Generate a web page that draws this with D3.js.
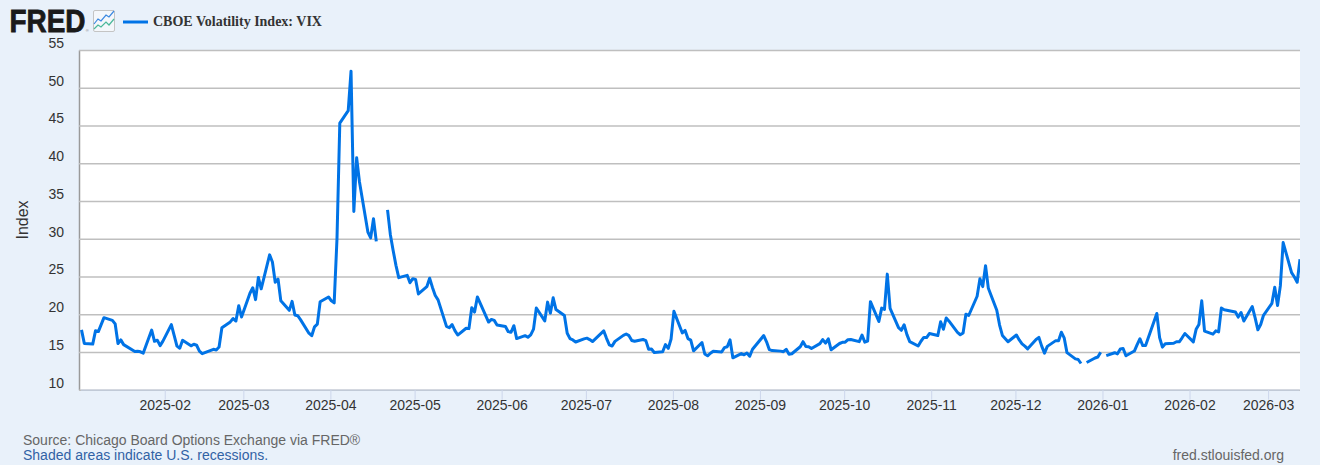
<!DOCTYPE html>
<html>
<head>
<meta charset="utf-8">
<script src="https://cdn.jsdelivr.net/npm/d3@7/dist/d3.min.js"></script>
<style>
html,body{margin:0;padding:0;background:#e9f1fa;}
svg{display:block;}
text{font-family:"Liberation Sans",Arial,sans-serif;}
</style>
</head>
<body>
<svg id="c" width="1320" height="465"></svg>
<script>
// [day of month, close]; null marks a missing observation (line break)
const m2501=[[2,17.93],[3,16.13],[6,16.04],[7,17.82],[8,17.70],[10,19.54],[13,19.19],[14,18.71],[15,16.12],[16,16.60],[17,15.97],[21,15.06],[22,15.10],[23,15.02],[24,14.85],[27,17.90],[28,16.41],[29,16.56],[30,15.84],[31,16.43]];
const m2502=[[3,18.62],[4,17.21],[5,15.77],[6,15.50],[7,16.54],[10,15.81],[11,16.02],[12,15.89],[13,15.10],[14,14.77],[18,15.35],[19,15.27],[20,15.66],[21,18.21],[24,18.98],[25,19.43],[26,19.10],[27,21.13],[28,19.63]];
const m2503=[[3,22.78],[4,23.51],[5,21.93],[6,24.87],[7,23.37],[10,27.86],[11,26.92],[12,24.23],[13,24.66],[14,21.77],[17,20.51],[18,21.70],[19,19.90],[20,19.80],[21,19.28],[24,17.48],[25,17.15],[26,18.33],[27,18.69],[28,21.65],[31,22.28]];
const m2504=[[1,21.77],[2,21.51],[3,30.02],[4,45.31],[7,46.98],[8,52.2],[9,33.62],[10,40.72],[11,37.56],[14,30.89],[15,30.12],[16,32.64],[17,29.65],[18,null],[21,33.82],[22,30.57],[23,28.45],[24,26.47],[25,24.84],[28,25.15],[29,24.17],[30,24.70]];
const m2505=[[1,24.60],[2,22.68],[5,23.64],[6,24.76],[7,23.55],[8,22.48],[9,21.90],[12,18.39],[13,18.22],[14,18.62],[15,17.83],[16,17.24],[19,18.14],[20,18.09],[21,20.87],[22,20.28],[23,22.29],[27,18.96],[28,19.31],[29,19.18],[30,18.57]];
const m2506=[[2,18.36],[3,17.69],[4,17.61],[5,18.48],[6,16.77],[9,17.16],[10,16.95],[11,17.26],[12,18.02],[13,20.82],[16,19.11],[17,21.60],[18,20.14],[19,22.17],[20,20.62],[23,19.83],[24,17.48],[25,16.76],[26,16.59],[27,16.32],[30,16.73]];
const m2507=[[1,16.83],[2,16.64],[3,16.38],[7,17.79],[8,16.81],[9,15.94],[10,15.78],[11,16.40],[14,17.20],[15,17.38],[16,17.16],[17,16.52],[18,16.41],[21,16.65],[22,16.50],[23,15.37],[24,15.39],[25,14.93],[28,15.03],[29,15.98],[30,15.48],[31,16.72]];
const m2508=[[1,20.38],[4,17.52],[5,17.85],[6,16.77],[7,16.57],[8,15.15],[11,16.25],[12,14.73],[13,14.49],[14,14.83],[15,15.09],[18,14.99],[19,15.57],[20,15.69],[21,16.60],[22,14.22],[25,14.79],[26,14.62],[27,14.85],[28,14.43],[29,15.36]];
const m2509=[[2,17.17],[3,16.35],[4,15.30],[5,15.18],[8,15.11],[9,15.04],[10,15.35],[11,14.71],[12,14.76],[15,15.69],[16,16.36],[17,15.72],[18,15.70],[19,15.45],[22,16.10],[23,16.64],[24,16.18],[25,16.74],[26,15.29],[29,16.12],[30,16.28]];
const m2510=[[1,16.29],[2,16.63],[3,16.65],[6,16.37],[7,17.24],[8,16.30],[9,16.43],[10,21.66],[13,19.03],[14,20.81],[15,20.64],[16,25.31],[17,20.78],[20,18.23],[21,17.87],[22,18.60],[23,17.30],[24,16.37],[27,15.79],[28,16.42],[29,16.92],[30,16.91],[31,17.44]];
const m2511=[[3,17.17],[4,19.00],[5,18.01],[6,19.50],[7,19.08],[10,17.60],[11,17.28],[12,17.51],[13,20.00],[14,19.83],[17,22.38],[18,24.69],[19,23.66],[20,26.42],[21,23.43],[24,20.52],[25,18.56],[26,17.19],[28,16.35]];
const m2512=[[1,17.24],[2,16.59],[3,16.08],[4,15.78],[5,15.41],[8,16.66],[9,16.93],[10,15.77],[11,14.85],[12,15.74],[15,16.50],[16,16.48],[17,17.62],[18,16.87],[19,14.91],[22,14.08],[23,14.00],[24,13.47],[25,null],[26,13.60],[29,14.20],[30,14.33],[31,14.95]];
const m2601=[[1,null],[2,14.51],[5,14.90],[6,14.75],[7,15.38],[8,15.45],[9,14.49],[12,15.12],[13,15.98],[14,16.75],[15,15.84],[16,15.86],[20,20.09],[21,16.90],[22,15.64],[23,16.09],[26,16.15],[27,16.35],[28,16.35],[29,16.88],[30,17.44]];
const m2602=[[2,16.34],[3,18.00],[4,18.64],[5,21.77],[6,17.76],[9,17.36],[10,17.79],[11,17.65],[12,20.82],[13,20.60],[17,20.29],[18,19.62],[19,20.23],[20,19.09],[23,21.01],[24,19.55],[25,17.93],[26,18.63],[27,19.86]];
const m2603=[[2,21.44],[3,23.57],[4,21.15],[5,23.75],[6,29.49],[9,25.50],[10,24.93],[11,24.23],[12,27.29]];

const monthKeys=["2025-01","2025-02","2025-03","2025-04","2025-05","2025-06","2025-07","2025-08","2025-09","2025-10","2025-11","2025-12","2026-01","2026-02","2026-03"];
const monthRows=[m2501,m2502,m2503,m2504,m2505,m2506,m2507,m2508,m2509,m2510,m2511,m2512,m2601,m2602,m2603];
const yTicks=[10,15,20,25,30,35,40,45,50,55];
const xTickLabels=monthKeys.slice(1);
const seriesName="CBOE Volatility Index: VIX";
const yTitle="Index";
const sourceText="Source: Chicago Board Options Exchange via FRED®";
const recessionText="Shaded areas indicate U.S. recessions.";
const siteText="fred.stlouisfed.org";

const parseDay=d3.utcParse("%Y-%m-%d");
const points=monthRows.flatMap((rows,i)=>rows.map(([d,v])=>({date:parseDay(monthKeys[i]+"-"+String(d).padStart(2,"0")),value:v})));

const plot={left:79,right:1300,top:50,bottom:389.7};
const x=d3.scaleUtc().domain([parseDay("2025-01-02"),parseDay("2026-03-12")]).range([80.5,1299]);
const y=d3.scaleLinear().domain([10,55]).range([plot.bottom,plot.top]);

const svg=d3.select("#c");
svg.append("rect").attr("width",1320).attr("height",465).attr("fill","#e9f1fa");
svg.append("rect").attr("x",plot.left).attr("y",plot.top).attr("width",plot.right-plot.left).attr("height",plot.bottom-plot.top).attr("fill","#fff");

// y axis and grid
const yAxis=svg.append("g").attr("transform",`translate(${plot.left},0)`)
  .call(d3.axisLeft(y).tickValues(yTicks).tickSizeInner(-(plot.right-plot.left)).tickSizeOuter(0).tickPadding(15));
yAxis.select(".domain").attr("stroke","#9a9a9a").attr("stroke-width",1.5);
yAxis.selectAll(".tick line").attr("stroke","#bfbfbf").attr("stroke-width",1.5);
yAxis.selectAll(".tick text").attr("y",-7).attr("fill","#333").style("font-size","14px").style("font-family",'"Liberation Sans",Arial,sans-serif');

// x axis
const xAxis=svg.append("g").attr("transform",`translate(0,${plot.bottom})`)
  .call(d3.axisBottom(x).tickValues(xTickLabels.map(m=>parseDay(m+"-01"))).tickFormat(d3.utcFormat("%Y-%m")).tickSize(10).tickSizeOuter(0).tickPadding(0));
xAxis.select(".domain").attr("stroke","#c3cfe3").attr("stroke-width",1);
xAxis.selectAll(".tick line").attr("stroke","#ccd6eb");
xAxis.selectAll(".tick text").attr("x",0).attr("fill","#333").style("font-size","14px").style("font-family",'"Liberation Sans",Arial,sans-serif');

svg.append("clipPath").attr("id","plotClip").append("rect").attr("x",plot.left).attr("y",plot.top).attr("width",plot.right-plot.left).attr("height",plot.bottom-plot.top);

const line=d3.line().defined(d=>d.value!==null).x(d=>x(d.date)).y(d=>y(d.value));
svg.append("g").attr("clip-path","url(#plotClip)")
  .append("path").datum(points).attr("d",line).attr("transform","translate(1,0)").attr("fill","none").attr("stroke","#0073e6").attr("stroke-width",3).attr("stroke-linejoin","round");

// y title
svg.append("text").attr("transform","translate(28,220) rotate(-90)").attr("text-anchor","middle").attr("fill","#333").style("font-size","16px").text(yTitle);

// logo
svg.append("text").attr("transform","translate(9.5,32) scale(0.9,1)").attr("fill","#1a1a1a").attr("stroke","#1a1a1a").attr("stroke-width",0.8).style("font-size","31px").style("font-weight","700").text("FRED");
svg.append("text").attr("x",85.8).attr("y",32).attr("fill","#777").style("font-size","4px").text("®");
const icon=svg.append("g");
icon.append("rect").attr("x",93.5).attr("y",10.5).attr("width",21).attr("height",21).attr("rx",1.5).attr("fill","#f4f7fb").attr("stroke","#c4c4c4");
icon.append("polyline").attr("points","94,24 98,19 101,21 106,15 109,17 114,11").attr("fill","none").attr("stroke","#3b88e0").attr("stroke-width",1.2);
icon.append("polyline").attr("points","94,29 98,25 101,27 106,22 109,25 114,19").attr("fill","none").attr("stroke","#4bb89a").attr("stroke-width",1.2);

// legend
svg.append("line").attr("x1",123).attr("x2",148).attr("y1",22).attr("y2",22).attr("stroke","#0073e6").attr("stroke-width",3);
svg.append("text").attr("x",153).attr("y",26).attr("fill","#333").style("font-family",'"Liberation Serif","Times New Roman",serif').style("font-weight","700").style("font-size","14px").text(seriesName);

// footer
svg.append("text").attr("x",23).attr("y",445).attr("fill","#666").style("font-size","14px").text(sourceText);
svg.append("text").attr("x",23).attr("y",460).attr("fill","#3162a5").style("font-size","14px").text(recessionText);
svg.append("text").attr("x",1284).attr("y",460).attr("text-anchor","end").attr("fill","#666").style("font-size","14px").text(siteText);
</script>
</body>
</html>
